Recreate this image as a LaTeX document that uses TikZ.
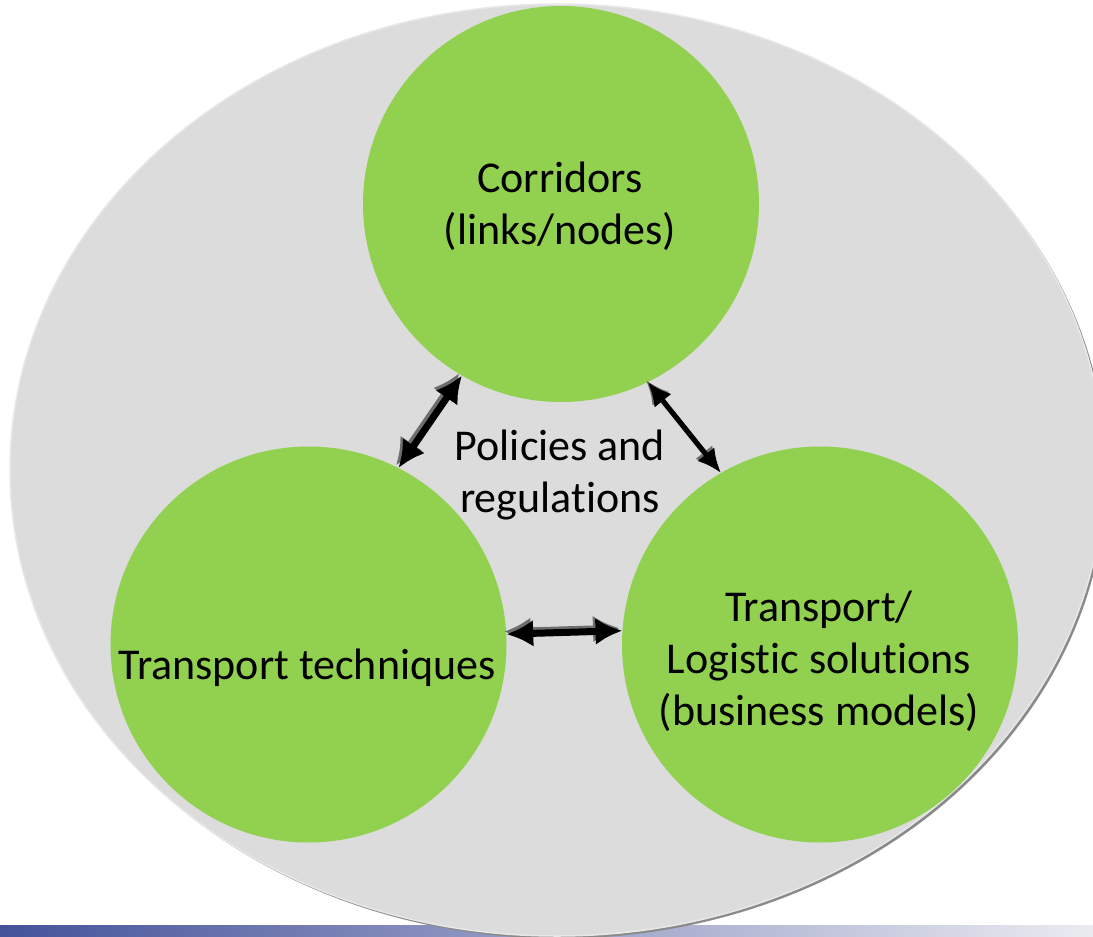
\documentclass[tikz,border=0pt]{standalone}
\usepackage{fontspec}
\setmainfont{Carlito}[RawFeature={-liga;-clig;-calt;-dlig}]
\usetikzlibrary{arrows.meta}
\definecolor{bggrey}{HTML}{DCDCDC}
\definecolor{rimgrey}{HTML}{E8E8E8}
\definecolor{shadowgrey}{HTML}{8A8A8A}
\definecolor{leafgreen}{HTML}{92D050}
\definecolor{arrshadow}{HTML}{6E6E6E}
\definecolor{barleft}{HTML}{44529A}
\definecolor{barmid}{HTML}{9DA1C4}
\definecolor{barright}{HTML}{EBEBF1}
\tikzset{
  greencircle/.style={circle, fill=leafgreen, minimum size=396pt, inner sep=0pt, outer sep=0pt},
  bigtext/.style={font=\fontsize{44}{52}\selectfont, align=center, inner sep=0pt, text=black},
  thickhead/.tip={Latex[length=27pt,width=27pt]},
  thinhead/.tip={Latex[length=24pt,width=22pt]},
  thickarrow/.style={line width=7pt, thickhead-thickhead},
  thinarrow/.style={line width=5pt, thinhead-thinhead},
  shadowcol/.style={draw=arrshadow}
}
\begin{document}
\begin{tikzpicture}[x=1pt,y=-1pt]
\useasboundingbox (0,0) rectangle (1093,937);
% bottom gradient bar
\shade[left color=barleft, middle color=barmid, right color=barright] (0,925) rectangle (1093,937);
% big ellipse with shadow
\fill[shadowgrey] (559.5,472.5) ellipse [x radius=547pt, y radius=466pt];
\filldraw[fill=bggrey, draw=rimgrey, line width=1.5pt] (557,470) ellipse [x radius=547pt, y radius=466pt];
% circles
\node[greencircle] (T) at (561,204) {};
\node[greencircle] (L) at (308.5,644.5) {};
\node[greencircle] (R) at (820,644.5) {};
% texts
\node[bigtext] (tT) at (560,206) {Corridors\\(links/nodes)};
\node[bigtext] (tL) at (307,668) {Transport techniques};
\node[bigtext] (tR) at (819,661) {Transport/\\Logistic solutions\\(business models)};
\node[bigtext] (tC) at (560,475) {Policies and\\regulations};
% arrows (grey shadow copy first, offset up-left)
\draw[thickarrow, shadowcol] ([xshift=-2.5pt,yshift=2.5pt]L.63.8) -- ([xshift=-2.5pt,yshift=2.5pt]T.240.2);
\draw[thickarrow] (L.63.8) -- (T.240.2);
\draw[thinarrow, shadowcol] ([xshift=-2pt,yshift=2pt]T.296.7) -- ([xshift=-2pt,yshift=2pt]R.120.5);
\draw[thinarrow] (T.296.7) -- (R.120.5);
\draw[thickarrow, shadowcol] ([xshift=-2.5pt,yshift=2.5pt]L.3.6) -- ([xshift=-2.5pt,yshift=2.5pt]R.176.6);
\draw[thickarrow] (L.3.6) -- (R.176.6);
\end{tikzpicture}
\end{document}
